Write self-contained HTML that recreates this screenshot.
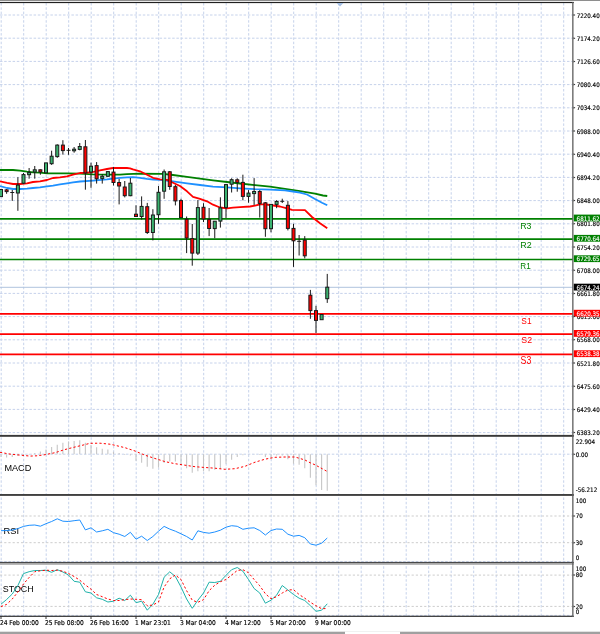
<!DOCTYPE html>
<html><head><meta charset="utf-8"><title>Chart</title>
<style>html,body{margin:0;padding:0;background:#fff;width:600px;height:634px;overflow:hidden}svg{display:block}</style>
</head><body>
<svg width="600" height="634" viewBox="0 0 600 634">
<rect width="600" height="634" fill="#fff"/>
<path d="M1.2 3V616 M23.7 3V616 M46.2 3V616 M68.7 3V616 M91.2 3V616 M113.7 3V616 M136.2 3V616 M158.7 3V616 M181.2 3V616 M203.7 3V616 M226.2 3V616 M248.7 3V616 M271.2 3V616 M293.7 3V616 M316.2 3V616 M338.7 3V616 M361.2 3V616 M383.7 3V616 M406.2 3V616 M428.7 3V616 M451.2 3V616 M473.7 3V616 M496.2 3V616 M518.7 3V616 M541.2 3V616 M563.7 3V616" stroke="#c6d2eb" stroke-width="1" stroke-dasharray="2.5 1.8" fill="none"/>
<path d="M0 15H572.8 M0 38.2H572.8 M0 61.4H572.8 M0 84.6H572.8 M0 107.8H572.8 M0 131H572.8 M0 154.2H572.8 M0 177.4H572.8 M0 200.6H572.8 M0 223.8H572.8 M0 247H572.8 M0 270.2H572.8 M0 293.4H572.8 M0 316.6H572.8 M0 339.8H572.8 M0 363H572.8 M0 386.2H572.8 M0 409.4H572.8 M0 432.6H572.8 M0 454.2H572.8 M0 561.6H572.8 M0 615.4H572.8" stroke="#c6d2eb" stroke-width="1" stroke-dasharray="2.5 1.7" fill="none"/>
<path d="M0 516H572.8 M0 542.7H572.8 M0 575.1H572.8 M0 606.4H572.8" stroke="#cdcdcd" stroke-width="1" stroke-dasharray="2.2 2" fill="none"/>
<path d="M0 287.3H572.8" stroke="#b0c4de" stroke-width="1"/>
<path d="M0 218.8H572.8" stroke="#008000" stroke-width="1.7"/>
<path d="M0 239.1H572.8" stroke="#008000" stroke-width="1.7"/>
<path d="M0 259.5H572.8" stroke="#008000" stroke-width="1.7"/>
<path d="M0 313.8H572.8" stroke="#ff0000" stroke-width="1.7"/>
<path d="M0 334.1H572.8" stroke="#ff0000" stroke-width="1.7"/>
<path d="M0 354.4H572.8" stroke="#ff0000" stroke-width="1.7"/>
<polyline points="0,170 13,170 20,170.7 27,171.7 33,172.3 40,172.7 47,173.3 67,173.4 80,173.6 93,174.3 107,174.7 120,174.6 127,174.1 140,173.7 163,173.8 173,175 187,176.8 200,178.7 213,180.4 227,182 240,183.5 255,185.2 270,186.7 285,188.8 300,191.2 315,193.7 323,195.5 327.25,196" fill="none" stroke="#008000" stroke-width="1.8" stroke-linejoin="round"/>
<polyline points="0,186 7,188 13,189 20,189 27,188.7 33,188 40,187.3 47,186.4 53,185.6 60,184.4 67,183.3 73,182.4 80,181.5 93,180.6 107,179.4 113,178.7 120,177.9 127,177.4 133,177.1 140,177.8 147,178.9 153,179.5 160,179.8 173,181.3 187,183.3 200,185 213,186.7 227,187.3 240,188.3 255,189.2 270,189.7 285,190.3 293,191.5 300,192.7 307,194.5 315,199 322,202.7 327.25,205.3" fill="none" stroke="#1e90ff" stroke-width="1.8" stroke-linejoin="round"/>
<polyline points="0,181.3 7,182.9 13,184 20,184 27,183.3 33,182 40,181.3 47,180 53,178 60,177.3 67,176.3 73,174.7 80,173 87,172.6 93,172 100,170.3 107,169 113,168 127,168 130,168.3 133,169.4 140,171.3 147,174.7 153,177.8 160,179.3 167,179.9 173,182.7 180,186 187,191.3 193,196.8 200,198.9 207,201.3 213,204.7 220,207.5 227,208.3 233,207.7 240,207.2 250,206.5 255,205.7 260,204.3 265,204.3 270,205 280,206.5 287,208.3 292,209.8 305,210.2 312,217 320,223.3 327.25,228.2" fill="none" stroke="#ff0000" stroke-width="1.8" stroke-linejoin="round"/>
<path d="M6.62 189V193.8 M12.25 190V200.9 M10.25 192.5H14.25 M17.88 177.2V210.8 M23.5 173V184 M29.12 168V178.7 M34.75 166V178.7 M40.38 169.5V174.7 M51.62 150.7V164.9 M57.25 144.3V157.8 M62.88 140.2V154.6 M68.5 148V154.8 M66.5 150.3H70.5 M74.12 147V152.7 M79.75 143V150.3 M85.38 140V189.7 M91 162.7V187.8 M96.62 162.1V183.6 M102.25 174.1V183.6 M107.88 171V176.8 M113.5 167.1V185.5 M119.12 178.9V204.4 M124.75 181V197.4 M130.38 178V196.2 M136 205.3V217 M141.62 196.4V219.5 M147.25 202.9V234 M152.88 209.2V240.4 M158.5 186V223.8 M164.12 169.5V198.8 M169.75 171V189.8 M175.38 185V205.4 M181 198.8V218 M186.62 216.5V253.1 M192.25 224V265.7 M197.88 200.1V255 M203.5 203.2V222 M209.12 208V236.1 M214.75 221V238.3 M220.38 197.3V227.6 M226 184V218 M231.62 178.3V192.5 M237.25 178.3V191.7 M242.88 174.7V200.3 M248.5 190.1V202.7 M254.12 178.1V205.1 M259.75 190.1V217.6 M265.38 202V236.8 M271 204V232.3 M276.62 200.1V208.2 M282.25 198.7V203 M280.25 201.3H284.25 M287.88 201.1V230.4 M293.5 223.8V266.9 M299.12 235V255.5 M297.12 241.3H301.12 M304.75 236.1V258.4 M310.38 289.9V318.8 M316 305.8V333 M327.25 273.9V302.9" stroke="#1a1a1a" stroke-width="1" fill="none"/>
<rect x="-0.5" y="189.5" width="3" height="7.1" fill="#3cb371" stroke="#1a1a1a" stroke-width="1"/>
<rect x="5.12" y="189.9" width="3" height="1.7" fill="#ff0000" stroke="#1a1a1a" stroke-width="1"/>
<rect x="16.38" y="185.1" width="3" height="7.9" fill="#3cb371" stroke="#1a1a1a" stroke-width="1"/>
<rect x="22" y="174.6" width="3" height="8.6" fill="#3cb371" stroke="#1a1a1a" stroke-width="1"/>
<rect x="27.62" y="172.4" width="3" height="2.3" fill="#3cb371" stroke="#1a1a1a" stroke-width="1"/>
<rect x="33.25" y="169.8" width="3" height="2.2" fill="#3cb371" stroke="#1a1a1a" stroke-width="1"/>
<rect x="38.88" y="169.8" width="3" height="2.2" fill="#ff0000" stroke="#1a1a1a" stroke-width="1"/>
<rect x="44.5" y="162.9" width="3" height="9.9" fill="#3cb371" stroke="#1a1a1a" stroke-width="1"/>
<rect x="50.12" y="156.2" width="3" height="7.5" fill="#3cb371" stroke="#1a1a1a" stroke-width="1"/>
<rect x="55.75" y="145.1" width="3" height="11.5" fill="#3cb371" stroke="#1a1a1a" stroke-width="1"/>
<rect x="61.38" y="145.1" width="3" height="5.5" fill="#ff0000" stroke="#1a1a1a" stroke-width="1"/>
<rect x="72.62" y="149.2" width="3" height="1.6" fill="#3cb371" stroke="#1a1a1a" stroke-width="1"/>
<rect x="78.25" y="146.5" width="3" height="2.9" fill="#3cb371" stroke="#1a1a1a" stroke-width="1"/>
<rect x="83.88" y="146.8" width="3" height="26.2" fill="#ff0000" stroke="#1a1a1a" stroke-width="1"/>
<rect x="89.5" y="166.2" width="3" height="5.8" fill="#3cb371" stroke="#1a1a1a" stroke-width="1"/>
<rect x="95.12" y="165.6" width="3" height="13.2" fill="#ff0000" stroke="#1a1a1a" stroke-width="1"/>
<rect x="100.75" y="176.3" width="3" height="2.1" fill="#3cb371" stroke="#1a1a1a" stroke-width="1"/>
<rect x="106.38" y="171.6" width="3" height="4.7" fill="#3cb371" stroke="#1a1a1a" stroke-width="1"/>
<rect x="112" y="172.1" width="3" height="10.4" fill="#ff0000" stroke="#1a1a1a" stroke-width="1"/>
<rect x="117.62" y="182.5" width="3" height="3.5" fill="#ff0000" stroke="#1a1a1a" stroke-width="1"/>
<rect x="123.25" y="187" width="3" height="8.7" fill="#ff0000" stroke="#1a1a1a" stroke-width="1"/>
<rect x="128.88" y="183.2" width="3" height="12.5" fill="#3cb371" stroke="#1a1a1a" stroke-width="1"/>
<rect x="134.5" y="214.2" width="3" height="2.3" fill="#ff0000" stroke="#1a1a1a" stroke-width="1"/>
<rect x="140.12" y="206.4" width="3" height="10.1" fill="#3cb371" stroke="#1a1a1a" stroke-width="1"/>
<rect x="145.75" y="206.7" width="3" height="25.8" fill="#ff0000" stroke="#1a1a1a" stroke-width="1"/>
<rect x="151.38" y="215" width="3" height="17.5" fill="#3cb371" stroke="#1a1a1a" stroke-width="1"/>
<rect x="157" y="192.3" width="3" height="22.4" fill="#3cb371" stroke="#1a1a1a" stroke-width="1"/>
<rect x="162.62" y="171.8" width="3" height="19.4" fill="#3cb371" stroke="#1a1a1a" stroke-width="1"/>
<rect x="168.25" y="171.8" width="3" height="14.7" fill="#ff0000" stroke="#1a1a1a" stroke-width="1"/>
<rect x="173.88" y="186.7" width="3" height="14.2" fill="#ff0000" stroke="#1a1a1a" stroke-width="1"/>
<rect x="179.5" y="200.6" width="3" height="17" fill="#ff0000" stroke="#1a1a1a" stroke-width="1"/>
<rect x="185.12" y="219.3" width="3" height="18.7" fill="#ff0000" stroke="#1a1a1a" stroke-width="1"/>
<rect x="190.75" y="238.6" width="3" height="14.5" fill="#ff0000" stroke="#1a1a1a" stroke-width="1"/>
<rect x="196.38" y="207.6" width="3" height="45.5" fill="#3cb371" stroke="#1a1a1a" stroke-width="1"/>
<rect x="202" y="207.3" width="3" height="11.7" fill="#ff0000" stroke="#1a1a1a" stroke-width="1"/>
<rect x="207.62" y="219.6" width="3" height="8.9" fill="#ff0000" stroke="#1a1a1a" stroke-width="1"/>
<rect x="213.25" y="221.2" width="3" height="7.4" fill="#3cb371" stroke="#1a1a1a" stroke-width="1"/>
<rect x="218.88" y="207.9" width="3" height="13.2" fill="#3cb371" stroke="#1a1a1a" stroke-width="1"/>
<rect x="224.5" y="184.6" width="3" height="22.8" fill="#3cb371" stroke="#1a1a1a" stroke-width="1"/>
<rect x="230.12" y="179.7" width="3" height="4.5" fill="#3cb371" stroke="#1a1a1a" stroke-width="1"/>
<rect x="235.75" y="179.8" width="3" height="2.6" fill="#ff0000" stroke="#1a1a1a" stroke-width="1"/>
<rect x="241.38" y="182.4" width="3" height="14" fill="#ff0000" stroke="#1a1a1a" stroke-width="1"/>
<rect x="247" y="193.1" width="3" height="3.3" fill="#3cb371" stroke="#1a1a1a" stroke-width="1"/>
<rect x="252.62" y="191.5" width="3" height="2.1" fill="#3cb371" stroke="#1a1a1a" stroke-width="1"/>
<rect x="258.25" y="191.5" width="3" height="11.9" fill="#ff0000" stroke="#1a1a1a" stroke-width="1"/>
<rect x="263.88" y="202.8" width="3" height="25.9" fill="#ff0000" stroke="#1a1a1a" stroke-width="1"/>
<rect x="269.5" y="204.4" width="3" height="24.3" fill="#3cb371" stroke="#1a1a1a" stroke-width="1"/>
<rect x="275.12" y="201.5" width="3" height="2.9" fill="#3cb371" stroke="#1a1a1a" stroke-width="1"/>
<rect x="286.38" y="205.3" width="3" height="23.1" fill="#ff0000" stroke="#1a1a1a" stroke-width="1"/>
<rect x="292" y="228.4" width="3" height="12.4" fill="#ff0000" stroke="#1a1a1a" stroke-width="1"/>
<rect x="303.25" y="240.1" width="3" height="15.7" fill="#ff0000" stroke="#1a1a1a" stroke-width="1"/>
<rect x="308.88" y="295.2" width="3" height="15.4" fill="#ff0000" stroke="#1a1a1a" stroke-width="1"/>
<rect x="314.5" y="310.6" width="3" height="9.8" fill="#ff0000" stroke="#1a1a1a" stroke-width="1"/>
<rect x="320.12" y="314.5" width="3" height="5.2" fill="#3cb371" stroke="#1a1a1a" stroke-width="1"/>
<rect x="325.75" y="287.2" width="3" height="11.5" fill="#3cb371" stroke="#1a1a1a" stroke-width="1"/>
<text transform="translate(520.15,229.05) scale(0.891,1)" font-family="Liberation Sans, Arial, sans-serif" font-size="9.86" fill="#008000">R3</text>
<text transform="translate(520.24,247.55) scale(0.913,1)" font-family="Liberation Sans, Arial, sans-serif" font-size="9.71" fill="#008000">R2</text>
<text transform="translate(520.30,268.75) scale(0.829,1)" font-family="Liberation Sans, Arial, sans-serif" font-size="9.86" fill="#008000">R1</text>
<text transform="translate(521.33,323.65) scale(0.876,1)" font-family="Liberation Sans, Arial, sans-serif" font-size="9.58" fill="#ff0000">S1</text>
<text transform="translate(521.31,343.15) scale(0.914,1)" font-family="Liberation Sans, Arial, sans-serif" font-size="9.58" fill="#ff0000">S2</text>
<text transform="translate(520.61,364.35) scale(0.864,1)" font-family="Liberation Sans, Arial, sans-serif" font-size="10.14" fill="#ff0000">S3</text>
<text transform="translate(4.42,471.27) scale(1.097,1)" font-family="Liberation Sans, Arial, sans-serif" font-size="8.31" fill="#000">MACD</text>
<text transform="translate(3.61,533.56) scale(0.982,1)" font-family="Liberation Sans, Arial, sans-serif" font-size="9.44" fill="#000">RSI</text>
<text transform="translate(2.71,592.25) scale(0.902,1)" font-family="Liberation Sans, Arial, sans-serif" font-size="9.86" fill="#000">STOCH</text>
<path d="M1 454.2V457 M6.62 454.2V457.5 M12.25 454.2V457 M17.88 454.2V456 M23.5 454.2V455.5 M29.12 454.2V454.8 M34.75 454.2V453 M40.38 454.2V451.6 M46 454.2V449.5 M51.62 454.2V447 M57.25 454.2V444.8 M62.88 454.2V442.8 M68.5 454.2V441.4 M74.12 454.2V441 M79.75 454.2V440.2 M85.38 454.2V442.7 M91 454.2V445 M96.62 454.2V447.2 M102.25 454.2V448.7 M107.88 454.2V449.5 M113.5 454.2V451.7 M119.12 454.2V453 M124.75 454.2V455 M130.38 454.2V455.5 M136 454.2V460.7 M141.62 454.2V462.7 M147.25 454.2V466.7 M152.88 454.2V468.7 M158.5 454.2V467.5 M164.12 454.2V463 M169.75 454.2V461.5 M175.38 454.2V461.5 M181 454.2V465.2 M186.62 454.2V468.2 M192.25 454.2V472.7 M197.88 454.2V471.2 M203.5 454.2V471.2 M209.12 454.2V471.2 M214.75 454.2V469.7 M220.38 454.2V469 M226 454.2V463.7 M231.62 454.2V459.7 M237.25 454.2V457 M242.88 454.2V455.2 M248.5 454.2V454.5 M254.12 454.2V454.5 M259.75 454.2V455 M265.38 454.2V457 M271 454.2V458.5 M276.62 454.2V455.5 M282.25 454.2V455.5 M287.88 454.2V459.2 M293.5 454.2V463.7 M299.12 454.2V464.8 M304.75 454.2V468.2 M310.38 454.2V477.7 M316 454.2V485.2 M321.62 454.2V490 M327.25 454.2V490.7" stroke="#c6c6c6" stroke-width="1.1" fill="none"/>
<polyline points="0,452.3 10,454.1 20,455.1 30,456.1 37,455.8 45,454.7 55,452.7 65,449.5 75,447 85,444.6 90,443.3 100,443.2 110,444.2 115,445.3 125,447.7 135,451 145,455.2 155,458.5 165,461.6 175,463.7 185,465.2 195,466.7 205,467.5 215,468.2 225,469.3 235,468.7 245,466.3 255,462.2 265,459.2 275,457.3 285,457 295,457 300,458.5 305,460 310,462.7 315,464.8 320,467.5 327.25,471.5" fill="none" stroke="#ff0000" stroke-width="1.0" stroke-dasharray="2.2 2.2"/>
<polyline points="1,530.7 6.62,530.5 12.25,530 17.88,528.6 23.5,526.4 29.12,525.3 34.75,525 40.38,526.2 46,523.7 51.62,521.5 57.25,518.8 62.88,521.2 68.5,521.5 74.12,520.7 79.75,520 85.38,529.9 91,527.8 96.62,532 102.25,530.8 107.88,529.3 113.5,532.7 119.12,534.2 124.75,536.5 130.38,532.3 136,539.2 141.62,536.2 147.25,540.5 152.88,536.5 158.5,531.2 164.12,526.4 169.75,529.1 175.38,531.2 181,533.8 186.62,536.5 192.25,540 197.88,530.8 203.5,532.4 209.12,533.2 214.75,532 220.38,530.2 226,527.2 231.62,525.7 237.25,526.3 242.88,529.3 248.5,528.2 254.12,527.8 259.75,530.5 265.38,535 271,530.5 276.62,529 282.25,529.3 287.88,534.2 293.5,536.2 299.12,535.4 304.75,537.7 310.38,544 316,545.2 321.62,543.2 327.25,538" fill="none" stroke="#1e90ff" stroke-width="1.0" stroke-linejoin="round"/>
<polyline points="1,604.2 6.62,599.5 12.25,594 17.88,585.5 23.5,573.6 29.12,571.7 34.75,570.5 40.38,570.5 46,570.2 51.62,572.3 57.25,569.7 62.88,572 68.5,575 74.12,581.3 79.75,582.2 85.38,591.8 91,593 96.62,597.8 102.25,599.3 107.88,602 113.5,601.2 119.12,598.2 124.75,600.5 130.38,595.2 136,602.7 141.62,601.2 147.25,610.2 152.88,604.2 158.5,594.5 164.12,577.2 169.75,571.8 175.38,576.5 181,587 186.62,599 192.25,608.3 197.88,600.2 203.5,593 209.12,582.2 214.75,582.5 220.38,581.3 226,575.3 231.62,569.7 237.25,567.5 242.88,571.2 248.5,579.5 254.12,588.5 259.75,593 265.38,603.2 271,600.2 276.62,595.2 282.25,585.5 287.88,590 293.5,594.5 299.12,598.2 304.75,600.5 310.38,605.7 316,611.3 321.62,610.2 327.25,603.8" fill="none" stroke="#20b2aa" stroke-width="1.0" stroke-linejoin="round"/>
<polyline points="1,606.6 6.62,604.4 12.25,599 17.88,592 23.5,584 29.12,577.5 34.75,571.7 40.38,570.8 46,570.2 51.62,570.5 57.25,570.2 62.88,571.2 68.5,573.5 74.12,576.5 79.75,580.2 85.38,584.9 91,589.2 96.62,594.5 102.25,596.7 107.88,599 113.5,600.5 119.12,600.5 124.75,599.7 130.38,599 136,599.3 141.62,599.7 147.25,605.7 152.88,605 158.5,602 164.12,587 169.75,578.8 175.38,575 181,579.5 186.62,590.7 192.25,600.2 197.88,602.3 203.5,599.7 209.12,590.7 214.75,585.2 220.38,581.7 226,579.5 231.62,575 237.25,570.5 242.88,569.7 248.5,572.7 254.12,579.5 259.75,585.8 265.38,593.7 271,598.7 276.62,596.7 282.25,593 287.88,590 293.5,589.7 299.12,594.5 304.75,598.2 310.38,602.3 316,605.7 321.62,608.7 327.25,608.5" fill="none" stroke="#ff0000" stroke-width="1.0" stroke-dasharray="2.2 2.2"/>
<rect x="0" y="0" width="600" height="1" fill="#8e8e8e"/>
<rect x="0" y="1.9" width="573.8" height="1.2" fill="#202020"/>
<rect x="0" y="434.9" width="573.8" height="1.9" fill="#383838"/>
<rect x="0" y="494" width="573.8" height="1.9" fill="#404040"/>
<rect x="0" y="561.9" width="573.8" height="1" fill="#2a2a2a"/>
<rect x="0" y="562.9" width="573.8" height="1.9" fill="#a8a8a8"/>
<rect x="0" y="615.7" width="573.8" height="1.2" fill="#303030"/>
<rect x="572.1999999999999" y="2" width="1.3" height="615" fill="#5e5e5e"/>
<path d="M336.6 3L343.4 3L340 6.6Z" fill="#a4bfe4"/>
<text x="576.7" y="17.6" font-family="'DejaVu Sans Condensed', 'Liberation Sans', sans-serif" font-size="6.2" fill="#000" stroke="#000" stroke-width="0.15">7220.40</text>
<text x="576.7" y="40.8" font-family="'DejaVu Sans Condensed', 'Liberation Sans', sans-serif" font-size="6.2" fill="#000" stroke="#000" stroke-width="0.15">7174.20</text>
<text x="576.7" y="64" font-family="'DejaVu Sans Condensed', 'Liberation Sans', sans-serif" font-size="6.2" fill="#000" stroke="#000" stroke-width="0.15">7126.60</text>
<text x="576.7" y="87.2" font-family="'DejaVu Sans Condensed', 'Liberation Sans', sans-serif" font-size="6.2" fill="#000" stroke="#000" stroke-width="0.15">7080.40</text>
<text x="576.7" y="110.4" font-family="'DejaVu Sans Condensed', 'Liberation Sans', sans-serif" font-size="6.2" fill="#000" stroke="#000" stroke-width="0.15">7034.20</text>
<text x="576.7" y="133.6" font-family="'DejaVu Sans Condensed', 'Liberation Sans', sans-serif" font-size="6.2" fill="#000" stroke="#000" stroke-width="0.15">6988.00</text>
<text x="576.7" y="156.8" font-family="'DejaVu Sans Condensed', 'Liberation Sans', sans-serif" font-size="6.2" fill="#000" stroke="#000" stroke-width="0.15">6940.40</text>
<text x="576.7" y="180" font-family="'DejaVu Sans Condensed', 'Liberation Sans', sans-serif" font-size="6.2" fill="#000" stroke="#000" stroke-width="0.15">6894.20</text>
<text x="576.7" y="203.2" font-family="'DejaVu Sans Condensed', 'Liberation Sans', sans-serif" font-size="6.2" fill="#000" stroke="#000" stroke-width="0.15">6848.00</text>
<text x="576.7" y="226.4" font-family="'DejaVu Sans Condensed', 'Liberation Sans', sans-serif" font-size="6.2" fill="#000" stroke="#000" stroke-width="0.15">6801.80</text>
<text x="576.7" y="249.6" font-family="'DejaVu Sans Condensed', 'Liberation Sans', sans-serif" font-size="6.2" fill="#000" stroke="#000" stroke-width="0.15">6754.20</text>
<text x="576.7" y="272.8" font-family="'DejaVu Sans Condensed', 'Liberation Sans', sans-serif" font-size="6.2" fill="#000" stroke="#000" stroke-width="0.15">6708.00</text>
<text x="576.7" y="296" font-family="'DejaVu Sans Condensed', 'Liberation Sans', sans-serif" font-size="6.2" fill="#000" stroke="#000" stroke-width="0.15">6661.80</text>
<text x="576.7" y="319.2" font-family="'DejaVu Sans Condensed', 'Liberation Sans', sans-serif" font-size="6.2" fill="#000" stroke="#000" stroke-width="0.15">6615.60</text>
<text x="576.7" y="342.4" font-family="'DejaVu Sans Condensed', 'Liberation Sans', sans-serif" font-size="6.2" fill="#000" stroke="#000" stroke-width="0.15">6568.00</text>
<text x="576.7" y="365.6" font-family="'DejaVu Sans Condensed', 'Liberation Sans', sans-serif" font-size="6.2" fill="#000" stroke="#000" stroke-width="0.15">6521.80</text>
<text x="576.7" y="388.8" font-family="'DejaVu Sans Condensed', 'Liberation Sans', sans-serif" font-size="6.2" fill="#000" stroke="#000" stroke-width="0.15">6475.60</text>
<text x="576.7" y="412" font-family="'DejaVu Sans Condensed', 'Liberation Sans', sans-serif" font-size="6.2" fill="#000" stroke="#000" stroke-width="0.15">6429.40</text>
<text x="576.7" y="435.2" font-family="'DejaVu Sans Condensed', 'Liberation Sans', sans-serif" font-size="6.2" fill="#000" stroke="#000" stroke-width="0.15">6383.20</text>
<rect x="573.8" y="214.6" width="27" height="6.8" fill="#008000"/>
<text x="576.6" y="220.7" font-family="'DejaVu Sans Condensed', 'Liberation Sans', sans-serif" font-size="6.2" fill="#fff" stroke="#fff" stroke-width="0.1">6811.62</text>
<rect x="573.8" y="234.9" width="27" height="6.8" fill="#008000"/>
<text x="576.6" y="241" font-family="'DejaVu Sans Condensed', 'Liberation Sans', sans-serif" font-size="6.2" fill="#fff" stroke="#fff" stroke-width="0.1">6770.64</text>
<rect x="573.8" y="255.3" width="27" height="6.8" fill="#008000"/>
<text x="576.6" y="261.4" font-family="'DejaVu Sans Condensed', 'Liberation Sans', sans-serif" font-size="6.2" fill="#fff" stroke="#fff" stroke-width="0.1">6729.65</text>
<rect x="573.8" y="283.7" width="27" height="6.8" fill="#000000"/>
<text x="576.6" y="289.8" font-family="'DejaVu Sans Condensed', 'Liberation Sans', sans-serif" font-size="6.2" fill="#fff" stroke="#fff" stroke-width="0.1">6674.24</text>
<rect x="573.8" y="309.8" width="27" height="6.8" fill="#ff0000"/>
<text x="576.6" y="315.9" font-family="'DejaVu Sans Condensed', 'Liberation Sans', sans-serif" font-size="6.2" fill="#fff" stroke="#fff" stroke-width="0.1">6620.35</text>
<rect x="573.8" y="330" width="27" height="6.8" fill="#ff0000"/>
<text x="576.6" y="336.1" font-family="'DejaVu Sans Condensed', 'Liberation Sans', sans-serif" font-size="6.2" fill="#fff" stroke="#fff" stroke-width="0.1">6579.36</text>
<rect x="573.8" y="350.3" width="27" height="6.8" fill="#ff0000"/>
<text x="576.6" y="356.4" font-family="'DejaVu Sans Condensed', 'Liberation Sans', sans-serif" font-size="6.2" fill="#fff" stroke="#fff" stroke-width="0.1">6538.38</text>
<text x="575.7" y="443.8" font-family="'DejaVu Sans Condensed', 'Liberation Sans', sans-serif" font-size="6.2" fill="#000" stroke="#000" stroke-width="0.15">22.904</text>
<text x="575.7" y="456.5" font-family="'DejaVu Sans Condensed', 'Liberation Sans', sans-serif" font-size="6.2" fill="#000" stroke="#000" stroke-width="0.15">0.00</text>
<text x="575.7" y="491.7" font-family="'DejaVu Sans Condensed', 'Liberation Sans', sans-serif" font-size="6.2" fill="#000" stroke="#000" stroke-width="0.15">-56.212</text>
<text x="575.7" y="503" font-family="'DejaVu Sans Condensed', 'Liberation Sans', sans-serif" font-size="6.2" fill="#000" stroke="#000" stroke-width="0.15">100</text>
<text x="575.7" y="518.3" font-family="'DejaVu Sans Condensed', 'Liberation Sans', sans-serif" font-size="6.2" fill="#000" stroke="#000" stroke-width="0.15">70</text>
<text x="575.7" y="545" font-family="'DejaVu Sans Condensed', 'Liberation Sans', sans-serif" font-size="6.2" fill="#000" stroke="#000" stroke-width="0.15">30</text>
<text x="575.7" y="559.7" font-family="'DejaVu Sans Condensed', 'Liberation Sans', sans-serif" font-size="6.2" fill="#000" stroke="#000" stroke-width="0.15">0</text>
<text x="575.7" y="570.9" font-family="'DejaVu Sans Condensed', 'Liberation Sans', sans-serif" font-size="6.2" fill="#000" stroke="#000" stroke-width="0.15">100</text>
<text x="575.7" y="577.4" font-family="'DejaVu Sans Condensed', 'Liberation Sans', sans-serif" font-size="6.2" fill="#000" stroke="#000" stroke-width="0.15">80</text>
<text x="575.7" y="608.7" font-family="'DejaVu Sans Condensed', 'Liberation Sans', sans-serif" font-size="6.2" fill="#000" stroke="#000" stroke-width="0.15">20</text>
<text x="575.7" y="614" font-family="'DejaVu Sans Condensed', 'Liberation Sans', sans-serif" font-size="6.2" fill="#000" stroke="#000" stroke-width="0.15">0</text>
<path d="M573.5999999999999 14L575.4 15L573.5999999999999 16Z M573.5999999999999 37.2L575.4 38.2L573.5999999999999 39.2Z M573.5999999999999 60.4L575.4 61.4L573.5999999999999 62.4Z M573.5999999999999 83.6L575.4 84.6L573.5999999999999 85.6Z M573.5999999999999 106.8L575.4 107.8L573.5999999999999 108.8Z M573.5999999999999 130L575.4 131L573.5999999999999 132Z M573.5999999999999 153.2L575.4 154.2L573.5999999999999 155.2Z M573.5999999999999 176.4L575.4 177.4L573.5999999999999 178.4Z M573.5999999999999 199.6L575.4 200.6L573.5999999999999 201.6Z M573.5999999999999 222.8L575.4 223.8L573.5999999999999 224.8Z M573.5999999999999 246L575.4 247L573.5999999999999 248Z M573.5999999999999 269.2L575.4 270.2L573.5999999999999 271.2Z M573.5999999999999 292.4L575.4 293.4L573.5999999999999 294.4Z M573.5999999999999 315.6L575.4 316.6L573.5999999999999 317.6Z M573.5999999999999 338.8L575.4 339.8L573.5999999999999 340.8Z M573.5999999999999 362L575.4 363L573.5999999999999 364Z M573.5999999999999 385.2L575.4 386.2L573.5999999999999 387.2Z M573.5999999999999 408.4L575.4 409.4L573.5999999999999 410.4Z M573.5999999999999 431.6L575.4 432.6L573.5999999999999 433.6Z M573.5999999999999 453.2L575.4 454.2L573.5999999999999 455.2Z M573.5999999999999 515L575.4 516L573.5999999999999 517Z M573.5999999999999 541.7L575.4 542.7L573.5999999999999 543.7Z M573.5999999999999 574.1L575.4 575.1L573.5999999999999 576.1Z M573.5999999999999 605.4L575.4 606.4L573.5999999999999 607.4Z" fill="#222"/>
<text x="-0.1" y="625.35" font-family="'DejaVu Sans Condensed', 'Liberation Sans', sans-serif" font-size="6.6" fill="#000" stroke="#000" stroke-width="0.15">24 Feb 00:00</text>
<text x="44.9" y="625.35" font-family="'DejaVu Sans Condensed', 'Liberation Sans', sans-serif" font-size="6.6" fill="#000" stroke="#000" stroke-width="0.15">25 Feb 08:00</text>
<text x="89.9" y="625.35" font-family="'DejaVu Sans Condensed', 'Liberation Sans', sans-serif" font-size="6.6" fill="#000" stroke="#000" stroke-width="0.15">26 Feb 16:00</text>
<text x="134.9" y="625.35" font-family="'DejaVu Sans Condensed', 'Liberation Sans', sans-serif" font-size="6.6" fill="#000" stroke="#000" stroke-width="0.15">1 Mar 23:01</text>
<text x="179.9" y="625.35" font-family="'DejaVu Sans Condensed', 'Liberation Sans', sans-serif" font-size="6.6" fill="#000" stroke="#000" stroke-width="0.15">3 Mar 04:00</text>
<text x="224.9" y="625.35" font-family="'DejaVu Sans Condensed', 'Liberation Sans', sans-serif" font-size="6.6" fill="#000" stroke="#000" stroke-width="0.15">4 Mar 12:00</text>
<text x="269.9" y="625.35" font-family="'DejaVu Sans Condensed', 'Liberation Sans', sans-serif" font-size="6.6" fill="#000" stroke="#000" stroke-width="0.15">5 Mar 20:00</text>
<text x="314.9" y="625.35" font-family="'DejaVu Sans Condensed', 'Liberation Sans', sans-serif" font-size="6.6" fill="#000" stroke="#000" stroke-width="0.15">9 Mar 00:00</text>
<path d="M1 616V619 M46 616V619 M91 616V619 M136 616V619 M181 616V619 M226 616V619 M271 616V619 M316 616V619" stroke="#333" stroke-width="1"/>
<rect x="0" y="631.7" width="345" height="2.3" fill="#a0a0a0"/>
<rect x="400" y="631.7" width="200" height="2.3" fill="#a0a0a0"/>
<rect x="345" y="631.2" width="55" height="0.6" fill="#e8e8e8"/>
</svg>
</body></html>
